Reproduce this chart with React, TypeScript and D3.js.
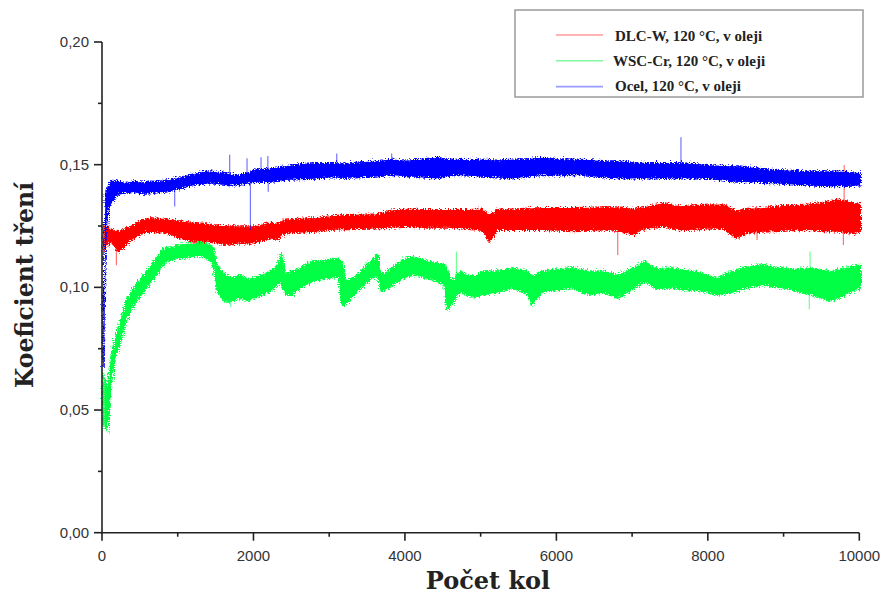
import React from "react";
import * as d3 from "d3";

// [cycle, low, high] envelope of each friction trace
const dlcW: [number, number, number][] = [
  [0, 0.116, 0.126], [100, 0.1193, 0.124], [200, 0.1152, 0.1234], [300, 0.118, 0.1247],
  [400, 0.1207, 0.1261], [500, 0.1225, 0.1278], [600, 0.1234, 0.1288], [700, 0.1232, 0.1286],
  [800, 0.123, 0.1285], [900, 0.122, 0.128], [1000, 0.1207, 0.1275], [1200, 0.1193, 0.1268],
  [1400, 0.1193, 0.1261], [1600, 0.118, 0.1254], [1800, 0.1186, 0.1254], [2000, 0.1186, 0.1254],
  [2200, 0.1207, 0.1268], [2300, 0.12, 0.1265], [2400, 0.1227, 0.1282], [2600, 0.123, 0.1285],
  [2800, 0.1234, 0.1288], [3000, 0.1241, 0.1295], [3200, 0.1244, 0.13], [3400, 0.1245, 0.1302],
  [3600, 0.1247, 0.1302], [3800, 0.125, 0.1318], [4000, 0.1254, 0.1322], [4200, 0.125, 0.132],
  [4400, 0.125, 0.132], [4600, 0.125, 0.132], [4800, 0.1245, 0.132], [5000, 0.1241, 0.1322],
  [5100, 0.1193, 0.13], [5200, 0.1241, 0.1322], [5400, 0.1241, 0.1322], [5600, 0.1241, 0.1326],
  [5800, 0.1241, 0.1329], [6000, 0.1238, 0.1329], [6200, 0.1236, 0.1329], [6400, 0.1238, 0.133],
  [6600, 0.124, 0.1332], [6800, 0.1238, 0.1332], [7000, 0.122, 0.1325], [7100, 0.124, 0.133],
  [7200, 0.1247, 0.1336], [7400, 0.1254, 0.1349], [7600, 0.124, 0.1336], [7800, 0.1242, 0.134],
  [8000, 0.1247, 0.1343], [8200, 0.1245, 0.1343], [8350, 0.1207, 0.1315], [8500, 0.1228, 0.1325],
  [8700, 0.1234, 0.1329], [8900, 0.1236, 0.1335], [9100, 0.124, 0.134], [9300, 0.1241, 0.1343],
  [9500, 0.1236, 0.135], [9700, 0.1234, 0.1363], [9900, 0.1225, 0.135], [10000, 0.1234, 0.1345],
];

const wscCr: [number, number, number][] = [
  [0, 0.045, 0.066], [50, 0.042, 0.058], [100, 0.0595, 0.0717], [150, 0.0717, 0.0785],
  [200, 0.0758, 0.084], [300, 0.0867, 0.0948], [400, 0.0935, 0.1003], [500, 0.0976, 0.1043],
  [600, 0.1016, 0.1084], [700, 0.1057, 0.1125], [800, 0.1105, 0.1166], [900, 0.1118, 0.117],
  [1000, 0.1125, 0.118], [1100, 0.1128, 0.1183], [1200, 0.1132, 0.1186], [1300, 0.1132, 0.119],
  [1400, 0.1118, 0.118], [1450, 0.11, 0.117], [1500, 0.0989, 0.1098], [1600, 0.0948, 0.1057],
  [1700, 0.0948, 0.1043], [1800, 0.0962, 0.1057], [1900, 0.095, 0.104], [2000, 0.0962, 0.1043],
  [2100, 0.0975, 0.1057], [2200, 0.0989, 0.1071], [2300, 0.1016, 0.1098], [2350, 0.103, 0.1146],
  [2400, 0.0976, 0.106], [2500, 0.0976, 0.1071], [2600, 0.1003, 0.1084], [2750, 0.103, 0.1112],
  [2900, 0.104, 0.1115], [3100, 0.105, 0.1125], [3150, 0.0935, 0.111], [3200, 0.0935, 0.103],
  [3350, 0.099, 0.1057], [3550, 0.1043, 0.1118], [3620, 0.106, 0.1139], [3660, 0.099, 0.106],
  [3750, 0.1, 0.107], [3950, 0.1043, 0.1118], [4100, 0.1057, 0.1132], [4300, 0.104, 0.111],
  [4500, 0.102, 0.11], [4540, 0.0915, 0.108], [4600, 0.0935, 0.103], [4700, 0.099, 0.107],
  [4800, 0.0975, 0.1057], [4900, 0.0965, 0.105], [5000, 0.0976, 0.1071], [5200, 0.0985, 0.1071],
  [5400, 0.1003, 0.1084], [5600, 0.098, 0.107], [5650, 0.0935, 0.105], [5800, 0.0989, 0.1071],
  [6000, 0.0995, 0.108], [6200, 0.1003, 0.1084], [6400, 0.0976, 0.1071], [6600, 0.0985, 0.1071],
  [6800, 0.0962, 0.1057], [7000, 0.1, 0.1084], [7150, 0.103, 0.1112], [7300, 0.1, 0.108],
  [7500, 0.1003, 0.1084], [7700, 0.0995, 0.1075], [7900, 0.099, 0.1065], [8100, 0.0976, 0.1043],
  [8300, 0.0985, 0.1071], [8500, 0.1003, 0.109], [8700, 0.1016, 0.1098], [8900, 0.1005, 0.1085],
  [9100, 0.0995, 0.108], [9350, 0.0976, 0.1084], [9600, 0.095, 0.1071], [9800, 0.0976, 0.1084],
  [10000, 0.1003, 0.1098],
];

const ocel: [number, number, number][] = [
  [0, 0.068, 0.092], [30, 0.118, 0.138], [60, 0.132, 0.142], [100, 0.135, 0.144],
  [200, 0.139, 0.1437], [300, 0.1392, 0.143], [400, 0.1396, 0.1437], [500, 0.1388, 0.1432],
  [600, 0.139, 0.1437], [700, 0.1394, 0.1435], [800, 0.1396, 0.144], [900, 0.14, 0.1445],
  [1000, 0.1408, 0.1451], [1100, 0.1415, 0.146], [1200, 0.1424, 0.1467], [1300, 0.1428, 0.1475],
  [1400, 0.1431, 0.1478], [1500, 0.1428, 0.1474], [1600, 0.1424, 0.1472], [1700, 0.1422, 0.1465],
  [1800, 0.1424, 0.1462], [1900, 0.143, 0.1472], [2000, 0.1437, 0.1485], [2200, 0.1437, 0.149],
  [2400, 0.1445, 0.1499], [2600, 0.1448, 0.1508], [2800, 0.145, 0.1512], [3000, 0.1456, 0.1512],
  [3200, 0.1453, 0.151], [3400, 0.1456, 0.1515], [3600, 0.1458, 0.1519], [3800, 0.1465, 0.1526],
  [4000, 0.146, 0.1522], [4200, 0.1455, 0.1526], [4400, 0.1451, 0.1533], [4600, 0.1465, 0.1526],
  [4800, 0.1463, 0.1524], [5000, 0.1458, 0.1526], [5200, 0.1455, 0.1522], [5400, 0.1451, 0.1526],
  [5600, 0.1458, 0.1528], [5800, 0.1465, 0.1533], [6000, 0.1462, 0.1528], [6200, 0.1465, 0.1526],
  [6400, 0.1462, 0.1524], [6600, 0.1455, 0.152], [6800, 0.1451, 0.1519], [7000, 0.1452, 0.1514],
  [7200, 0.1451, 0.1512], [7400, 0.1452, 0.1512], [7600, 0.1451, 0.1512], [7800, 0.1451, 0.1508],
  [8000, 0.1449, 0.1504], [8200, 0.1442, 0.15], [8400, 0.1437, 0.1499], [8600, 0.1434, 0.1492],
  [8800, 0.1431, 0.1485], [9000, 0.1428, 0.1482], [9200, 0.1424, 0.1478], [9400, 0.1421, 0.1478],
  [9600, 0.1418, 0.1478], [9800, 0.142, 0.1476], [10000, 0.1422, 0.147],
];

// isolated spikes: [cycle, peak value]
const dlcWSpikes: [number, number][] = [[190, 0.109], [5100, 0.1185], [6810, 0.1132], [8650, 0.1193], [9790, 0.1173], [9800, 0.1499]];
const wscCrSpikes: [number, number][] = [[1700, 0.092], [4680, 0.1146], [9340, 0.091], [9350, 0.1146]];
const ocelSpikes: [number, number][] = [[960, 0.133], [1686, 0.154], [1915, 0.1526], [1960, 0.1234], [2100, 0.153], [2190, 0.1535], [2195, 0.139], [3100, 0.1546], [3825, 0.1546], [7645, 0.1612]];

const seriesNames = ["DLC-W, 120 °C, v oleji", "WSC-Cr, 120 °C, v oleji", "Ocel, 120 °C, v oleji"];
const xTicks = [0, 2000, 4000, 6000, 8000, 10000];
const xMinorTicks = [1000, 3000, 5000, 7000, 9000];
const yTicks = [0, 0.05, 0.1, 0.15, 0.2];
const yMinorTicks = [0.025, 0.075, 0.125, 0.175];

const W = 886, H = 594;
const L = 102, R = 859.3, T = 42, B = 532.7;

export default function App() {
  const x = d3.scaleLinear().domain([0, 10000]).range([L, R]);
  const y = d3.scaleLinear().domain([0, 0.2]).range([B, T]);
  const area = d3.area<[number, number, number]>()
    .x((d) => x(d[0])).y0((d) => y(d[1])).y1((d) => y(d[2]));
  const fmt = (v: number) => d3.format(".2f")(v).replace(".", ",");

  const series = [
    { data: dlcW, spikes: dlcWSpikes, color: "#ff0000", legend: "#ff9a9a" },
    { data: wscCr, spikes: wscCrSpikes, color: "#00ff44", legend: "#86f5a0" },
    { data: ocel, spikes: ocelSpikes, color: "#0000ff", legend: "#9a9aff" },
  ];
  const order = [1, 0, 2];

  const mid = (data: [number, number, number][], c: number) => {
    const i = d3.bisector((d: [number, number, number]) => d[0]).left(data, c);
    const d = data[Math.min(i, data.length - 1)];
    return (d[1] + d[2]) / 2;
  };

  return (
    <svg width={W} height={H} style={{ display: "block", position: "absolute", left: 0, top: 0 }}>
      <defs>
        <filter id="noise" x="-5%" y="-20%" width="110%" height="140%">
          <feTurbulence type="turbulence" baseFrequency="0.8 0.5" numOctaves={2} seed={3} result="t" />
          <feDisplacementMap in="SourceGraphic" in2="t" scale={5} xChannelSelector="R" yChannelSelector="G" />
        </filter>
      </defs>
      <rect width={W} height={H} fill="#fff" />
      {order.map((k) => {
        const s = series[k];
        return (
          <g key={k}>
            {s.spikes.map(([c, v], i) => (
              <line key={i} x1={x(c)} x2={x(c)} y1={y(mid(s.data, c))} y2={y(v)} stroke={s.color} strokeOpacity={0.55} strokeWidth={1.2} />
            ))}
            <g filter="url(#noise)">
              <path d={area(s.data) || ""} fill={s.color} stroke={s.color} strokeWidth={1.5} />
            </g>
          </g>
        );
      })}
      {/* axes */}
      <g stroke="#222" strokeWidth={1.6} fill="none">
        <line x1={L} x2={L} y1={T} y2={B + 0.8} />
        <line x1={L - 0.8} x2={R} y1={B} y2={B} />
        {yTicks.map((t) => <line key={t} x1={L - 8} x2={L} y1={y(t)} y2={y(t)} />)}
        {yMinorTicks.map((t) => <line key={t} x1={L - 4} x2={L} y1={y(t)} y2={y(t)} />)}
        {xTicks.map((t) => <line key={t} x1={x(t)} x2={x(t)} y1={B} y2={B + 8} />)}
        {xMinorTicks.map((t) => <line key={t} x1={x(t)} x2={x(t)} y1={B} y2={B + 4} />)}
      </g>
      <g fontFamily="'Liberation Sans', Arial, sans-serif" fontSize={15} fill="#333">
        {yTicks.map((t) => (
          <text key={t} x={L - 13} y={y(t) + 5} textAnchor="end">{fmt(t)}</text>
        ))}
        {xTicks.map((t) => (
          <text key={t} x={x(t)} y={B + 28} textAnchor="middle">{t}</text>
        ))}
      </g>
      <text x={488} y={589} textAnchor="middle" fontFamily="'DejaVu Serif', serif" fontWeight="bold" fontSize={24} fill="#222">Počet kol</text>
      <text transform="translate(33,285) rotate(-90)" textAnchor="middle" fontFamily="'DejaVu Serif', serif" fontWeight="bold" fontSize={23.5} fill="#222">Koeficient tření</text>
      {/* legend */}
      <rect x={515} y={10} width={348} height={87} fill="#fff" stroke="#9a9a9a" strokeWidth={1.5} />
      {series.map((s, i) => (
        <g key={i}>
          <line x1={556} x2={603} y1={35 + i * 25.8} y2={35 + i * 25.8} stroke={s.legend} strokeWidth={1.6} />
          <text x={i === 1 ? 613 : 615} y={40.5 + i * 25} fontFamily="'Liberation Serif', serif" fontWeight="bold" fontSize={15} fill="#222">{seriesNames[i]}</text>
        </g>
      ))}
    </svg>
  );
}
